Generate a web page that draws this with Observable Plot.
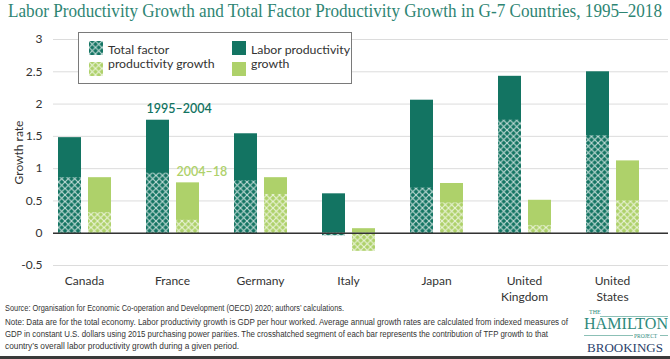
<!DOCTYPE html>
<html>
<head>
<meta charset="utf-8">
<script src="https://cdn.jsdelivr.net/npm/d3@7"></script>
<script src="https://cdn.jsdelivr.net/npm/@observablehq/plot@0.6"></script>
<style>
  html, body { margin: 0; padding: 0; background: #fff; }
  #page { position: relative; width: 670px; height: 359px; overflow: hidden; background: #fff; font-family: Lato, "Liberation Sans", sans-serif; }
  #title { position: absolute; left: 8px; top: 0px; font-family: "Liberation Serif", serif; font-size: 18.5px; color: #2e8573; white-space: nowrap; line-height: 22px; }
  #chart { position: absolute; left: 0; top: 0; }
  #legend { position: absolute; left: 78px; top: 32px; width: 272px; height: 50px; border: 1px solid #7a7a7a; background: #fff; z-index: 2; font-size: 12.3px; color: #333; }
  .sw { position: absolute; width: 14px; height: 14px; }
  .lt { position: absolute; line-height: 14px; white-space: nowrap; }
  .foot { position: absolute; left: 5px; font-family: "Liberation Sans", Arial, sans-serif; font-size: 8.3px; color: #333; white-space: nowrap; line-height: 10px; }
  #logo div { position: absolute; font-family: "Liberation Serif", serif; white-space: nowrap; }
  #bottomline { position: absolute; left: 0; top: 356px; width: 670px; height: 3px; background: #3a3a3a; }
</style>
</head>
<body>
<svg width="0" height="0" style="position:absolute">
  <defs>
    <pattern id="hatchDark" patternUnits="userSpaceOnUse" width="6.5" height="6.5">
      <rect width="6.5" height="6.5" fill="#137462"></rect>
      <path d="M0,0L6.5,6.5M6.5,0L0,6.5" stroke="#ffffff" stroke-opacity="0.75" stroke-width="1.1"></path>
    </pattern>
    <pattern id="hatchLight" patternUnits="userSpaceOnUse" width="6.5" height="6.5">
      <rect width="6.5" height="6.5" fill="#aed16a"></rect>
      <path d="M0,0L6.5,6.5M6.5,0L0,6.5" stroke="#ffffff" stroke-opacity="0.75" stroke-width="1.1"></path>
    </pattern>
  </defs>
</svg>
<div id="page">
  <div id="title" class="fit" data-w="654">Labor Productivity Growth and Total Factor Productivity Growth in G-7 Countries, 1995–2018</div>
  <div id="chart"></div>
  <div id="legend">
    <svg class="sw" style="left:10px;top:8px"><rect width="14" height="14" fill="url(#hatchDark)"></rect></svg>
    <svg class="sw" style="left:10px;top:29px"><rect width="14" height="14" fill="url(#hatchLight)"></rect></svg>
    <div class="lt" style="left:29px;top:10px">Total factor<br>productivity growth</div>
    <svg class="sw" style="left:153px;top:8px"><rect width="14" height="14" fill="#137462"></rect></svg>
    <svg class="sw" style="left:153px;top:29px"><rect width="14" height="14" fill="#aed16a"></rect></svg>
    <div class="lt" style="left:172px;top:10px">Labor productivity<br>growth</div>
  </div>
  <div class="foot fit" data-w="339" style="top:303px">Source: Organisation for Economic Co-operation and Development (OECD) 2020; authors’ calculations.</div>
  <div class="foot fit" data-w="563" style="top:317px">Note: Data are for the total economy. Labor productivity growth is GDP per hour worked. Average annual growth rates are calculated from indexed measures of</div>
  <div class="foot fit" data-w="543" style="top:329px">GDP in constant U.S. dollars using 2015 purchasing power parities. The crosshatched segment of each bar represents the contribution of TFP growth to that</div>
  <div class="foot" style="top:341px">country’s overall labor productivity growth during a given period.</div>
  <div id="logo">
    <div style="left:589px;top:309px;font-size:6px;line-height:7px;color:#2e8a7c;">THE</div>
    <div style="left:600px;top:316px;width:68px;height:0;border-top:1px solid #8cc0b6;"></div>
    <div class="fit" data-w="84" style="left:584px;top:317px;font-size:17px;line-height:14px;color:#2e8a7c;">HAMILTON</div>
    <div style="left:584px;top:335px;width:49px;height:0;border-top:1px solid #8cc0b6;"></div>
    <div style="left:634px;top:333px;font-size:5.5px;line-height:6px;color:#2e8a7c;">PROJECT</div>
    <div style="left:660px;top:335px;width:8px;height:0;border-top:1px solid #8cc0b6;"></div>
    <div class="fit" data-w="76" style="left:587px;top:341px;font-size:13.5px;line-height:14px;color:#2b3f6c;">BROOKINGS</div>
  </div>
  <div id="bottomline"></div>
</div>
<script>
const countries = ["Canada", "France", "Germany", "Italy", "Japan", "United Kingdom", "United States"];
const periods = ["1995–2004", "2004–18"];
const lp1995 = [1.48, 1.75, 1.54, 0.61, 2.06, 2.43, 2.50];
const tfp1995 = [0.86, 0.93, 0.81, -0.04, 0.70, 1.75, 1.51];
const lp2004 = [0.86, 0.78, 0.86, 0.07, 0.77, 0.51, 1.12];
const tfp2004 = [0.32, 0.20, 0.60, -0.28, 0.47, 0.12, 0.50];
const yTicks = [-0.5, 0, 0.5, 1, 1.5, 2, 2.5, 3];
const annotCountry = "France";

const DARK = "#137462";
const LIGHT = "#aed16a";

const early = countries.map((c, i) => ({country: c, lp: lp1995[i], tfp: tfp1995[i]}));
const late = countries.map((c, i) => ({country: c, lp: lp2004[i], tfp: tfp2004[i]}));
const ai = countries.indexOf(annotCountry);
const annots = [
  {country: annotCountry, y: lp1995[ai], label: periods[0]},
  {country: annotCountry, y: lp2004[ai], label: periods[1]}
];

const darkInset = {insetLeft: 18, insetRight: 47};
const lightInset = {insetLeft: 48, insetRight: 17};

const chart = Plot.plot({
  width: 670,
  height: 300,
  marginTop: 39,
  marginBottom: 35,
  marginLeft: 53,
  marginRight: 2,
  style: {fontFamily: "Lato, sans-serif", fontSize: "12px", color: "#333", background: "transparent", overflow: "visible"},
  x: {type: "band", domain: countries, range: [39, 656], padding: 0},
  y: {domain: [-0.5, 3]},
  marks: [
    Plot.ruleY(yTicks, {stroke: "#dcdcdc", strokeWidth: 1}),
    Plot.barY(early, {x: "country", y1: 0, y2: "lp", fill: DARK, ...darkInset}),
    Plot.barY(early, {x: "country", y1: 0, y2: "tfp", fill: "url(#hatchDark)", ...darkInset}),
    Plot.barY(late, {x: "country", y1: 0, y2: "lp", fill: LIGHT, ...lightInset}),
    Plot.barY(late, {x: "country", y1: 0, y2: "tfp", fill: "url(#hatchLight)", ...lightInset}),
    Plot.ruleY([0], {stroke: "#333", strokeWidth: 1.5}),
    Plot.text(annots.slice(0, 1), {x: "country", y: "y", text: "label", textAnchor: "start", dx: -26, dy: -11, fill: DARK, fontSize: 12.5, fontWeight: 600}),
    Plot.text(annots.slice(1), {x: "country", y: "y", text: "label", textAnchor: "start", dx: 4, dy: -11, fill: LIGHT, fontSize: 12.5, fontWeight: 600}),
    Plot.axisY({ticks: yTicks, tickSize: 0, tickPadding: 11, tickFormat: d => String(d), fontSize: 12, label: "Growth rate", labelAnchor: "center", labelArrow: "none", labelOffset: 39}),
    Plot.axisX({tickSize: 0, tickPadding: 8, fontSize: 12, lineHeight: 1.35, tickFormat: d => d.replace(" ", "\n"), label: null})
  ]
});
document.getElementById("chart").appendChild(chart);

document.querySelectorAll(".fit").forEach(el => {
  const target = +el.dataset.w;
  const natural = el.getBoundingClientRect().width;
  if (natural > 0) {
    el.style.transformOrigin = "0 0";
    el.style.transform = `scaleX(${target / natural})`;
  }
});
</script>
</body>
</html>
